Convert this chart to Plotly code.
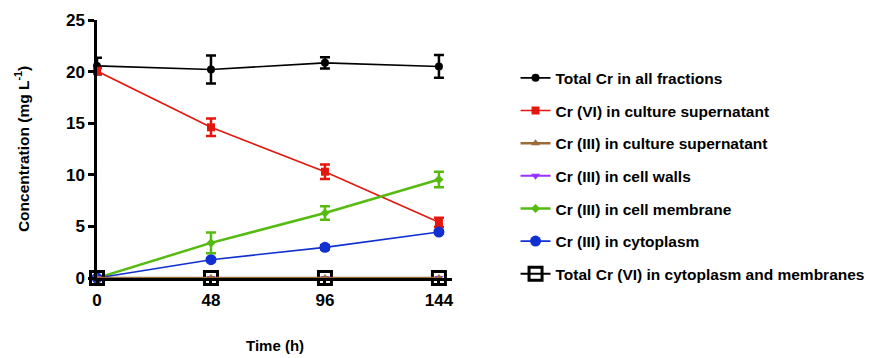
import plotly.graph_objects as go

time_h = [0, 48, 96, 144]

total_cr = [20.55, 20.2, 20.85, 20.5]
total_cr_err = [0.8, 1.35, 0.55, 1.1]

cr6_sup = [20.05, 14.6, 10.3, 5.4]
cr6_sup_err = [0.3, 0.85, 0.7, 0.45]

cr3_sup = [0, 0, 0, 0]
cr3_wall = [0, 0, 0, 0]

cr3_memb = [0, 3.4, 6.3, 9.55]
cr3_memb_err = [0, 1.0, 0.65, 0.75]

cr3_cyto = [0, 1.77, 2.97, 4.45]
cr3_cyto_err = [0, 0.15, 0.2, 0.15]

cr6_cyto_memb = [0, 0, 0, 0]

names = [
    "Total Cr in all fractions",
    "Cr (VI) in culture supernatant",
    "Cr (III) in culture supernatant",
    "Cr (III) in cell walls",
    "Cr (III) in cell membrane",
    "Cr (III) in cytoplasm",
    "Total Cr (VI) in cytoplasm and membranes",
]

FONT = "Liberation Sans, Arial, sans-serif"

fig = go.Figure()

def add(y, err, name, color, symbol, size, lw, rank, mline=None):
    marker = dict(symbol=symbol, size=size, color=color)
    if mline:
        marker["line"] = mline
    kw = {}
    if err is not None:
        kw["error_y"] = dict(type="data", array=err, visible=True, color=color,
                             thickness=2.5, width=5)
    fig.add_trace(go.Scatter(
        x=time_h, y=y, name=name, mode="lines+markers",
        line=dict(color=color, width=lw), marker=marker,
        cliponaxis=False, legendrank=rank, legendgroup=name, **kw))

add(total_cr, total_cr_err, names[0], "#000000", "circle", 8, 1.6, 1)
add(cr6_sup, cr6_sup_err, names[1], "#e3170d", "square", 8, 1.6, 2)
add(cr3_memb, cr3_memb_err, names[4], "#55bb11", "diamond", 7, 2.5, 5)
add(cr3_cyto, cr3_cyto_err, names[5], "#1030d0", "circle", 11, 1.6, 6)
add(cr6_cyto_memb, None, names[6], "#000000", "square-open", 13, 2, 7,
    mline=dict(color="#000000", width=3))
add(cr3_wall, None, names[3], "#9933ff", "triangle-down", 8, 2, 4)
add(cr3_sup, None, names[2], "#9c6b3a", "triangle-up", 8, 2.5, 3)

fig.update_layout(
    width=877, height=358,
    margin=dict(l=97, r=425, t=20, b=80, autoexpand=False),
    paper_bgcolor="white", plot_bgcolor="white",
    font=dict(family=FONT, color="black"),
    showlegend=True,
    legend=dict(x=1.179, y=0.84, xanchor="left", yanchor="top",
                font=dict(size=15.5, family=FONT, weight="bold"),
                tracegroupgap=9.5, bgcolor="rgba(0,0,0,0)"),
    xaxis=dict(range=[0, 149.5], tickvals=time_h, ticktext=[str(t) for t in time_h],
               showline=True, linecolor="black", linewidth=2.5,
               ticks="outside", ticklen=5, tickwidth=2.5, tickcolor="black",
               showgrid=False, zeroline=False, automargin=False,
               tickfont=dict(size=17, family=FONT, weight="bold")),
    yaxis=dict(range=[0, 25], tickvals=[0, 5, 10, 15, 20, 25],
               showline=True, linecolor="black", linewidth=2.5,
               ticks="outside", ticklen=6, tickwidth=2.5, tickcolor="black",
               showgrid=False, zeroline=False, automargin=False,
               tickfont=dict(size=17, family=FONT, weight="bold")),
    annotations=[
        dict(text="Time (h)", xref="paper", yref="paper", x=0.50, y=-0.26,
             xanchor="center", yanchor="middle", showarrow=False,
             font=dict(size=15, family=FONT, weight="bold")),
        dict(text="Concentration (mg L<sup>-1</sup>)", xref="paper", yref="paper",
             x=-0.211, y=0.50, textangle=-90, xanchor="center", yanchor="middle",
             showarrow=False, font=dict(size=15.5, family=FONT, weight="bold")),
    ],
)

fig.write_html("out.html")
